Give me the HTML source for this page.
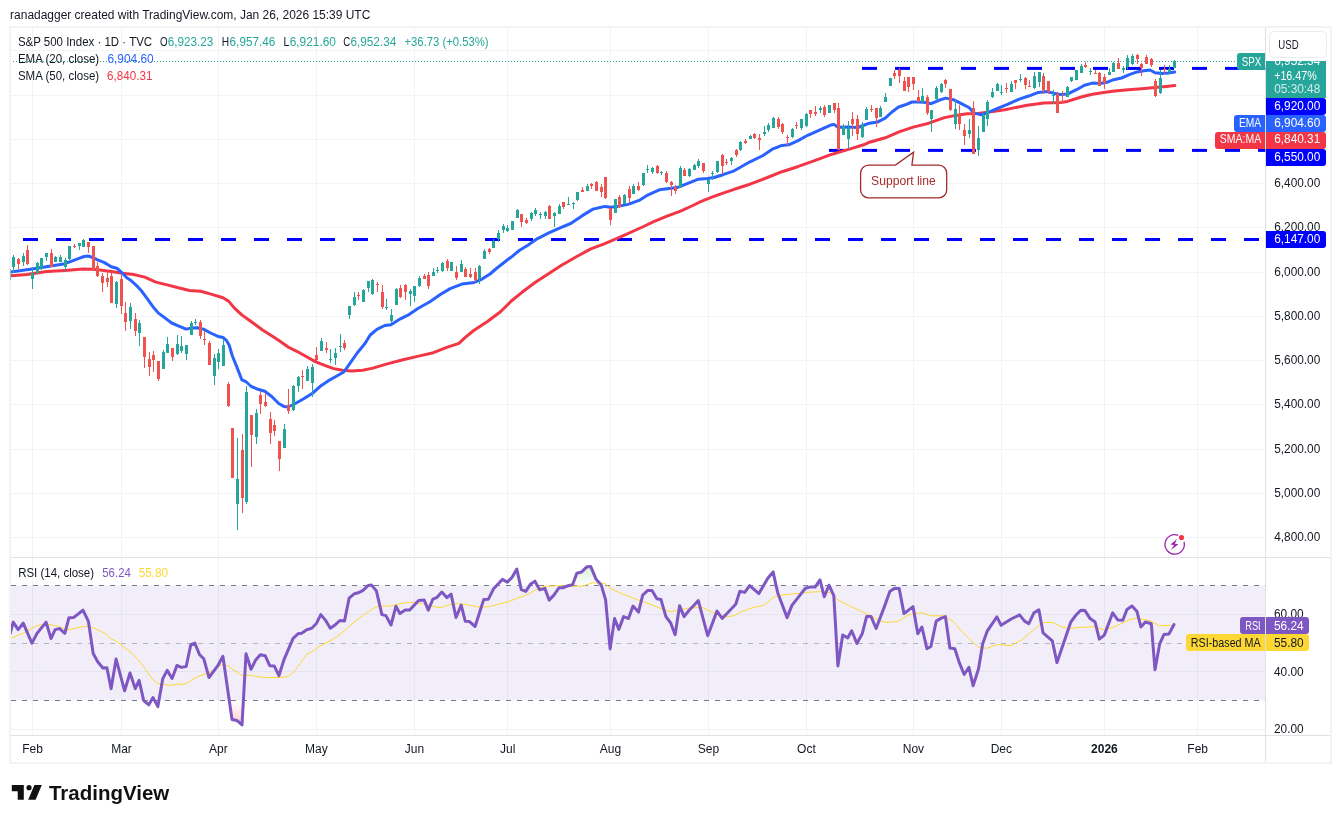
<!DOCTYPE html>
<html><head><meta charset="utf-8"><title>S&amp;P 500 Index chart</title>
<style>html,body{margin:0;padding:0;background:#fff}svg{display:block}</style></head>
<body>
<svg width="1341" height="823" viewBox="0 0 1341 823" font-family='"Liberation Sans", sans-serif' font-size="12" fill="#131722">
<rect width="1341" height="823" fill="#fff"/>
<defs>
<clipPath id="cm"><rect x="11" y="28" width="1254.5" height="529"/></clipPath>
<clipPath id="cr"><rect x="11" y="557" width="1254.5" height="178.5"/></clipPath>
<clipPath id="c70"><rect x="10" y="557" width="1255.5" height="28.399999999999977"/></clipPath>
<clipPath id="c30"><rect x="10" y="700.3" width="1255.5" height="35.200000000000045"/></clipPath>
<linearGradient id="gg" gradientUnits="userSpaceOnUse" x1="0" y1="499.2" x2="0" y2="585.4"><stop offset="0" stop-color="#4caf50" stop-opacity="1"/><stop offset="1" stop-color="#4caf50" stop-opacity="0"/></linearGradient>
<linearGradient id="gr" gradientUnits="userSpaceOnUse" x1="0" y1="700.3" x2="0" y2="786.5"><stop offset="0" stop-color="#ff5252" stop-opacity="0"/><stop offset="1" stop-color="#ff5252" stop-opacity="1"/></linearGradient>
</defs>
<text x="10.1" y="18.6" textLength="360.2" lengthAdjust="spacingAndGlyphs">ranadagger created with TradingView.com, Jan 26, 2026 15:39 UTC</text>
<g stroke="#f2f3f5" stroke-width="1" shape-rendering="crispEdges">
<line x1="32.5" y1="27" x2="32.5" y2="735.5"/>
<line x1="121.5" y1="27" x2="121.5" y2="735.5"/>
<line x1="218.5" y1="27" x2="218.5" y2="735.5"/>
<line x1="316.5" y1="27" x2="316.5" y2="735.5"/>
<line x1="414.5" y1="27" x2="414.5" y2="735.5"/>
<line x1="507.5" y1="27" x2="507.5" y2="735.5"/>
<line x1="610.5" y1="27" x2="610.5" y2="735.5"/>
<line x1="708.5" y1="27" x2="708.5" y2="735.5"/>
<line x1="806.5" y1="27" x2="806.5" y2="735.5"/>
<line x1="913.5" y1="27" x2="913.5" y2="735.5"/>
<line x1="1001.5" y1="27" x2="1001.5" y2="735.5"/>
<line x1="1104.5" y1="27" x2="1104.5" y2="735.5"/>
<line x1="1197.5" y1="27" x2="1197.5" y2="735.5"/>
<line x1="10" y1="537.5" x2="1265.5" y2="537.5"/>
<line x1="10" y1="493.5" x2="1265.5" y2="493.5"/>
<line x1="10" y1="449.5" x2="1265.5" y2="449.5"/>
<line x1="10" y1="404.5" x2="1265.5" y2="404.5"/>
<line x1="10" y1="360.5" x2="1265.5" y2="360.5"/>
<line x1="10" y1="316.5" x2="1265.5" y2="316.5"/>
<line x1="10" y1="272.5" x2="1265.5" y2="272.5"/>
<line x1="10" y1="227.5" x2="1265.5" y2="227.5"/>
<line x1="10" y1="183.5" x2="1265.5" y2="183.5"/>
<line x1="10" y1="139.5" x2="1265.5" y2="139.5"/>
<line x1="10" y1="95.5" x2="1265.5" y2="95.5"/>
<line x1="10" y1="50.5" x2="1265.5" y2="50.5"/>
<line x1="10" y1="614.5" x2="1265.5" y2="614.5"/>
<line x1="10" y1="671.5" x2="1265.5" y2="671.5"/>
<line x1="10" y1="729.5" x2="1265.5" y2="729.5"/>
</g>
<rect x="11" y="585.4" width="1254.5" height="114.89999999999998" fill="#7e57c2" fill-opacity="0.1"/>
<rect x="10" y="27" width="1321" height="736" fill="none" stroke="#f3f3f4" stroke-width="2" shape-rendering="crispEdges"/>
<g stroke="#e0e3eb" stroke-width="1" fill="none" shape-rendering="crispEdges">
<line x1="11" y1="557.5" x2="1330" y2="557.5"/>
</g>
<line x1="11" y1="735.5" x2="1330" y2="735.5" stroke="#e1e1e4" stroke-width="1" shape-rendering="crispEdges"/>
<line x1="1265.5" y1="28" x2="1265.5" y2="762" stroke="#e1e1e4" stroke-width="1" shape-rendering="crispEdges"/>
<rect x="10" y="269" width="1" height="11" fill="#26a69a" fill-opacity="0.6"/>
<g clip-path="url(#cm)">
<line x1="10" y1="61.5" x2="1265.5" y2="61.5" stroke="#26a69a" stroke-width="1" stroke-dasharray="1 2" shape-rendering="crispEdges"/>
<rect x="-10" y="238.0" width="15" height="3" fill="#0000ff"/>
<rect x="23" y="238.0" width="15" height="3" fill="#0000ff"/>
<rect x="56" y="238.0" width="15" height="3" fill="#0000ff"/>
<rect x="89" y="238.0" width="15" height="3" fill="#0000ff"/>
<rect x="122" y="238.0" width="15" height="3" fill="#0000ff"/>
<rect x="155" y="238.0" width="15" height="3" fill="#0000ff"/>
<rect x="188" y="238.0" width="15" height="3" fill="#0000ff"/>
<rect x="221" y="238.0" width="15" height="3" fill="#0000ff"/>
<rect x="254" y="238.0" width="15" height="3" fill="#0000ff"/>
<rect x="287" y="238.0" width="15" height="3" fill="#0000ff"/>
<rect x="320" y="238.0" width="15" height="3" fill="#0000ff"/>
<rect x="353" y="238.0" width="15" height="3" fill="#0000ff"/>
<rect x="386" y="238.0" width="15" height="3" fill="#0000ff"/>
<rect x="419" y="238.0" width="15" height="3" fill="#0000ff"/>
<rect x="452" y="238.0" width="15" height="3" fill="#0000ff"/>
<rect x="485" y="238.0" width="15" height="3" fill="#0000ff"/>
<rect x="518" y="238.0" width="15" height="3" fill="#0000ff"/>
<rect x="551" y="238.0" width="15" height="3" fill="#0000ff"/>
<rect x="584" y="238.0" width="15" height="3" fill="#0000ff"/>
<rect x="617" y="238.0" width="15" height="3" fill="#0000ff"/>
<rect x="650" y="238.0" width="15" height="3" fill="#0000ff"/>
<rect x="683" y="238.0" width="15" height="3" fill="#0000ff"/>
<rect x="716" y="238.0" width="15" height="3" fill="#0000ff"/>
<rect x="749" y="238.0" width="15" height="3" fill="#0000ff"/>
<rect x="782" y="238.0" width="15" height="3" fill="#0000ff"/>
<rect x="815" y="238.0" width="15" height="3" fill="#0000ff"/>
<rect x="848" y="238.0" width="15" height="3" fill="#0000ff"/>
<rect x="881" y="238.0" width="15" height="3" fill="#0000ff"/>
<rect x="914" y="238.0" width="15" height="3" fill="#0000ff"/>
<rect x="947" y="238.0" width="15" height="3" fill="#0000ff"/>
<rect x="980" y="238.0" width="15" height="3" fill="#0000ff"/>
<rect x="1013" y="238.0" width="15" height="3" fill="#0000ff"/>
<rect x="1046" y="238.0" width="15" height="3" fill="#0000ff"/>
<rect x="1079" y="238.0" width="15" height="3" fill="#0000ff"/>
<rect x="1112" y="238.0" width="15" height="3" fill="#0000ff"/>
<rect x="1145" y="238.0" width="15" height="3" fill="#0000ff"/>
<rect x="1178" y="238.0" width="15" height="3" fill="#0000ff"/>
<rect x="1211" y="238.0" width="15" height="3" fill="#0000ff"/>
<rect x="1244" y="238.0" width="15" height="3" fill="#0000ff"/>
<rect x="829" y="148.9" width="15" height="3" fill="#0000ff"/>
<rect x="862" y="148.9" width="15" height="3" fill="#0000ff"/>
<rect x="895" y="148.9" width="15" height="3" fill="#0000ff"/>
<rect x="928" y="148.9" width="15" height="3" fill="#0000ff"/>
<rect x="961" y="148.9" width="15" height="3" fill="#0000ff"/>
<rect x="994" y="148.9" width="15" height="3" fill="#0000ff"/>
<rect x="1027" y="148.9" width="15" height="3" fill="#0000ff"/>
<rect x="1060" y="148.9" width="15" height="3" fill="#0000ff"/>
<rect x="1093" y="148.9" width="15" height="3" fill="#0000ff"/>
<rect x="1126" y="148.9" width="15" height="3" fill="#0000ff"/>
<rect x="1159" y="148.9" width="15" height="3" fill="#0000ff"/>
<rect x="1192" y="148.9" width="15" height="3" fill="#0000ff"/>
<rect x="1225" y="148.9" width="15" height="3" fill="#0000ff"/>
<rect x="1258" y="148.9" width="7.5" height="3" fill="#0000ff"/>
<rect x="862" y="66.9" width="15" height="3" fill="#0000ff"/>
<rect x="895" y="66.9" width="15" height="3" fill="#0000ff"/>
<rect x="928" y="66.9" width="15" height="3" fill="#0000ff"/>
<rect x="961" y="66.9" width="15" height="3" fill="#0000ff"/>
<rect x="994" y="66.9" width="15" height="3" fill="#0000ff"/>
<rect x="1027" y="66.9" width="15" height="3" fill="#0000ff"/>
<rect x="1060" y="66.9" width="15" height="3" fill="#0000ff"/>
<rect x="1093" y="66.9" width="15" height="3" fill="#0000ff"/>
<rect x="1126" y="66.9" width="15" height="3" fill="#0000ff"/>
<rect x="1159" y="66.9" width="15" height="3" fill="#0000ff"/>
<rect x="1192" y="66.9" width="15" height="3" fill="#0000ff"/>
<rect x="1225" y="66.9" width="15" height="3" fill="#0000ff"/>
<rect x="1258" y="66.9" width="7.5" height="3" fill="#0000ff"/>
<polyline points="10,275.7 27,274.5 45,271.8 51,271.3 65,270.4 83,269 93,269.2 100,270.1 111.2,271.5 122.4,273.2 133.6,274.5 144.7,277.1 155.9,282.1 167.1,284.9 178.3,287.7 189.5,290.5 200.7,291.3 211.9,294.4 223,297.8 228.6,301.1 234.2,307.9 242.1,315.1 250,320.7 262.5,330 274.8,337.8 280,341.2 287.8,346.8 296.8,351.3 305.7,356.3 315.8,361.9 324.7,365.3 333.7,368.6 342.6,370.3 351.6,371.1 362.8,370.3 372.8,368.1 386.3,364.1 403,359.7 418.5,356.1 433.4,352.7 446.8,347.3 458.9,343.3 465.6,337.2 473.7,330.5 487.1,321.8 500.5,311.7 511.3,301 522,292.3 535.4,282.2 548.9,273.5 562.3,264.8 567.3,262 576.3,256.7 590.8,248.9 604.2,243.8 620,237.1 642.5,227 653.7,221.7 667.1,216.1 680.5,211.1 692.8,205.5 700.7,201.6 711.9,197.1 723,193.2 734.2,189.3 750,184.2 768.6,177 782,171.7 797.6,166.7 813.3,161.1 830.1,154.9 846.9,149.9 863.6,144.8 869.5,142.2 885.2,137.8 899.7,131.6 913.2,127.1 928.8,123.2 944.5,117.6 955.7,115.4 966.9,113.7 978,113.5 989.2,112 1005,109.8 1010.3,108.6 1027.1,105.3 1043.9,103 1060.7,102.5 1067.4,101.4 1081.2,97 1092.4,94.3 1103.6,92.6 1114.7,90.9 1128.2,89.8 1141.6,88.7 1155,87.5 1166.2,86.4 1174.8,85.6" fill="none" stroke="#f23645" stroke-width="3" stroke-linejoin="round" stroke-linecap="round" />
<polyline points="10,272.2 32,269 51,265.9 65,263.7 79,258.3 84,256.5 88,256 93,257.5 97,259.6 104.5,262.6 111.2,266.7 116.8,268.2 122.4,273.2 126.8,277.7 130.2,279.9 135.8,284.9 140.8,290 147,298.4 152.6,306.2 158.2,312.9 164.9,317.9 171.6,323 178.3,325.8 186.1,329.1 191.7,328 197.3,327.8 203.5,329.1 209.6,332.5 217.4,336.2 223,337.5 226.4,340.3 229.2,345.3 232.3,355.7 236.8,366.9 241.8,379.8 245.7,381.5 251.3,386.5 258,389.3 264.8,391.3 272,396.7 278.7,403.5 284.3,406.6 287.6,407.1 291.2,405.5 294.4,404 303.3,399 312.2,393.5 321.4,385.4 328.1,380.9 335.9,376.5 343.8,372 349.4,364.1 357.2,353 365,343.5 370.2,335 376.9,329.4 384.7,325.5 390.9,324.7 400.4,318.8 409.4,314.3 418.3,308.2 429.5,302 440.7,294.2 450.2,288.6 461.9,284.1 474.2,282.4 482.1,279.1 490,274 497,268 504.7,262 512.5,256.1 519.2,250.5 528.2,244.9 537.1,238.8 548.3,233.2 559.5,228.2 570.7,223.5 581.9,215.9 593,209.1 600,207.5 605,206.4 610.6,207.3 616.8,206.6 628,204.4 639.1,200.4 648.1,194.8 659.3,189.8 669.4,188.5 677.2,187.6 687.2,183.7 698.4,179.2 707.4,178.4 714.1,177.5 723,174.7 734.2,170.8 742.1,166.3 750,161.8 763,155.5 773,148.8 782,145.4 788.7,144.8 797.6,140.9 807.7,135.3 818.9,130.3 830.1,125.3 834,124.4 837.9,127.3 846.9,126.9 858,127.5 861.7,126 869.5,123.2 877.4,122.1 885.2,118.2 891.9,112 898.6,107 905.3,104.8 912,102 918.8,102 926.6,102.5 931.1,103.7 938.9,100.3 945.6,98.1 953.4,99.7 962.4,104.2 968.9,107.5 974.5,113.1 981.3,114.8 988,112.5 996.9,108.6 1008.1,104.2 1019.3,99.1 1029.4,95.8 1038.3,92.4 1047.2,91.6 1055.1,93.5 1060.7,94.6 1067.4,94.1 1076.5,89.7 1084.5,85.2 1092.4,83.1 1100.2,83.4 1106.9,82.3 1113.6,79.7 1121.5,78 1129.3,74.7 1137.1,71.9 1143.8,70.8 1150,70 1155,72.7 1161.7,73.6 1168.4,73 1174.8,71.9" fill="none" stroke="#2962ff" stroke-width="3" stroke-linejoin="round" stroke-linecap="round" />
<g fill="#26a69a"><rect x="13" y="255" width="1" height="18"/><rect x="12" y="257" width="3" height="10"/></g>
<g fill="#ef5350"><rect x="18" y="258" width="1" height="11"/><rect x="17" y="259" width="3" height="5"/></g>
<g fill="#26a69a"><rect x="23" y="253" width="1" height="13"/><rect x="22" y="256" width="3" height="6"/></g>
<g fill="#ef5350"><rect x="27" y="245" width="1" height="20"/><rect x="26" y="250" width="3" height="14"/></g>
<g fill="#26a69a"><rect x="32" y="267" width="1" height="22"/><rect x="31" y="273" width="3" height="6"/></g>
<g fill="#26a69a"><rect x="37" y="262" width="1" height="12"/><rect x="36" y="263" width="3" height="10"/></g>
<g fill="#26a69a"><rect x="41" y="258" width="1" height="12"/><rect x="40" y="258" width="3" height="10"/></g>
<g fill="#26a69a"><rect x="46" y="253" width="1" height="8"/><rect x="45" y="253" width="3" height="4"/></g>
<g fill="#ef5350"><rect x="51" y="249" width="1" height="18"/><rect x="50" y="253" width="3" height="14"/></g>
<g fill="#26a69a"><rect x="55" y="256" width="1" height="6"/><rect x="54" y="257" width="3" height="5"/></g>
<g fill="#26a69a"><rect x="60" y="255" width="1" height="7"/><rect x="59" y="257" width="3" height="5"/></g>
<g fill="#26a69a"><rect x="65" y="258" width="1" height="13"/><rect x="64" y="260" width="3" height="7"/></g>
<g fill="#26a69a"><rect x="69" y="246" width="1" height="14"/><rect x="68" y="246" width="3" height="13"/></g>
<g fill="#ef5350"><rect x="74" y="244" width="1" height="4"/><rect x="73" y="246" width="3" height="1"/></g>
<g fill="#26a69a"><rect x="79" y="243" width="1" height="7"/><rect x="78" y="243" width="3" height="3"/></g>
<g fill="#26a69a"><rect x="83" y="239" width="1" height="8"/><rect x="82" y="240" width="3" height="7"/></g>
<g fill="#ef5350"><rect x="88" y="242" width="1" height="11"/><rect x="87" y="242" width="3" height="5"/></g>
<g fill="#ef5350"><rect x="93" y="246" width="1" height="24"/><rect x="92" y="246" width="3" height="24"/></g>
<g fill="#ef5350"><rect x="97" y="262" width="1" height="15"/><rect x="96" y="266" width="3" height="10"/></g>
<g fill="#ef5350"><rect x="102" y="273" width="1" height="19"/><rect x="101" y="276" width="3" height="7"/></g>
<g fill="#ef5350"><rect x="107" y="271" width="1" height="16"/><rect x="106" y="278" width="3" height="4"/></g>
<g fill="#ef5350"><rect x="111" y="273" width="1" height="30"/><rect x="110" y="276" width="3" height="27"/></g>
<g fill="#26a69a"><rect x="116" y="281" width="1" height="27"/><rect x="115" y="282" width="3" height="22"/></g>
<g fill="#ef5350"><rect x="121" y="275" width="1" height="39"/><rect x="120" y="279" width="3" height="27"/></g>
<g fill="#ef5350"><rect x="125" y="302" width="1" height="29"/><rect x="124" y="313" width="3" height="9"/></g>
<g fill="#26a69a"><rect x="130" y="303" width="1" height="26"/><rect x="129" y="307" width="3" height="14"/></g>
<g fill="#ef5350"><rect x="135" y="313" width="1" height="23"/><rect x="134" y="319" width="3" height="12"/></g>
<g fill="#26a69a"><rect x="139" y="320" width="1" height="26"/><rect x="138" y="323" width="3" height="10"/></g>
<g fill="#ef5350"><rect x="144" y="337" width="1" height="31"/><rect x="143" y="337" width="3" height="20"/></g>
<g fill="#ef5350"><rect x="149" y="352" width="1" height="24"/><rect x="148" y="359" width="3" height="8"/></g>
<g fill="#ef5350"><rect x="153" y="351" width="1" height="21"/><rect x="152" y="355" width="3" height="5"/></g>
<g fill="#ef5350"><rect x="158" y="361" width="1" height="20"/><rect x="157" y="361" width="3" height="18"/></g>
<g fill="#26a69a"><rect x="163" y="350" width="1" height="19"/><rect x="162" y="352" width="3" height="17"/></g>
<g fill="#26a69a"><rect x="167" y="337" width="1" height="16"/><rect x="166" y="344" width="3" height="9"/></g>
<g fill="#ef5350"><rect x="172" y="348" width="1" height="13"/><rect x="171" y="348" width="3" height="9"/></g>
<g fill="#26a69a"><rect x="177" y="335" width="1" height="20"/><rect x="176" y="344" width="3" height="10"/></g>
<g fill="#26a69a"><rect x="181" y="336" width="1" height="17"/><rect x="180" y="346" width="3" height="5"/></g>
<g fill="#26a69a"><rect x="186" y="345" width="1" height="15"/><rect x="185" y="345" width="3" height="9"/></g>
<g fill="#26a69a"><rect x="191" y="321" width="1" height="14"/><rect x="190" y="323" width="3" height="12"/></g>
<g fill="#26a69a"><rect x="195" y="319" width="1" height="6"/><rect x="194" y="322" width="3" height="1"/></g>
<g fill="#ef5350"><rect x="200" y="320" width="1" height="19"/><rect x="199" y="322" width="3" height="14"/></g>
<g fill="#ef5350"><rect x="204" y="331" width="1" height="14"/><rect x="203" y="339" width="3" height="1"/></g>
<g fill="#ef5350"><rect x="209" y="341" width="1" height="24"/><rect x="208" y="343" width="3" height="22"/></g>
<g fill="#26a69a"><rect x="214" y="354" width="1" height="31"/><rect x="213" y="358" width="3" height="18"/></g>
<g fill="#26a69a"><rect x="218" y="349" width="1" height="20"/><rect x="217" y="353" width="3" height="9"/></g>
<g fill="#26a69a"><rect x="223" y="339" width="1" height="27"/><rect x="222" y="345" width="3" height="21"/></g>
<g fill="#ef5350"><rect x="228" y="382" width="1" height="25"/><rect x="227" y="384" width="3" height="22"/></g>
<g fill="#ef5350"><rect x="232" y="428" width="1" height="50"/><rect x="231" y="428" width="3" height="50"/></g>
<g fill="#26a69a"><rect x="237" y="438" width="1" height="92"/><rect x="236" y="479" width="3" height="25"/></g>
<g fill="#ef5350"><rect x="242" y="434" width="1" height="79"/><rect x="241" y="450" width="3" height="48"/></g>
<g fill="#26a69a"><rect x="246" y="386" width="1" height="118"/><rect x="245" y="392" width="3" height="110"/></g>
<g fill="#ef5350"><rect x="251" y="415" width="1" height="52"/><rect x="250" y="415" width="3" height="20"/></g>
<g fill="#26a69a"><rect x="256" y="409" width="1" height="35"/><rect x="255" y="413" width="3" height="24"/></g>
<g fill="#ef5350"><rect x="260" y="391" width="1" height="23"/><rect x="259" y="395" width="3" height="9"/></g>
<g fill="#ef5350"><rect x="265" y="393" width="1" height="14"/><rect x="264" y="402" width="3" height="4"/></g>
<g fill="#ef5350"><rect x="270" y="412" width="1" height="32"/><rect x="269" y="419" width="3" height="14"/></g>
<g fill="#ef5350"><rect x="274" y="420" width="1" height="16"/><rect x="273" y="425" width="3" height="6"/></g>
<g fill="#ef5350"><rect x="279" y="441" width="1" height="30"/><rect x="278" y="441" width="3" height="18"/></g>
<g fill="#26a69a"><rect x="284" y="424" width="1" height="24"/><rect x="283" y="429" width="3" height="19"/></g>
<g fill="#ef5350"><rect x="288" y="389" width="1" height="25"/><rect x="287" y="405" width="3" height="6"/></g>
<g fill="#26a69a"><rect x="293" y="385" width="1" height="26"/><rect x="292" y="386" width="3" height="24"/></g>
<g fill="#26a69a"><rect x="298" y="376" width="1" height="16"/><rect x="297" y="377" width="3" height="9"/></g>
<g fill="#ef5350"><rect x="302" y="370" width="1" height="19"/><rect x="301" y="376" width="3" height="1"/></g>
<g fill="#26a69a"><rect x="307" y="366" width="1" height="15"/><rect x="306" y="369" width="3" height="12"/></g>
<g fill="#26a69a"><rect x="312" y="364" width="1" height="33"/><rect x="311" y="367" width="3" height="16"/></g>
<g fill="#ef5350"><rect x="316" y="347" width="1" height="14"/><rect x="315" y="355" width="3" height="5"/></g>
<g fill="#26a69a"><rect x="321" y="338" width="1" height="13"/><rect x="320" y="341" width="3" height="10"/></g>
<g fill="#ef5350"><rect x="326" y="342" width="1" height="11"/><rect x="325" y="348" width="3" height="2"/></g>
<g fill="#26a69a"><rect x="330" y="349" width="1" height="14"/><rect x="329" y="359" width="3" height="1"/></g>
<g fill="#26a69a"><rect x="335" y="348" width="1" height="17"/><rect x="334" y="353" width="3" height="5"/></g>
<g fill="#26a69a"><rect x="340" y="334" width="1" height="18"/><rect x="339" y="346" width="3" height="1"/></g>
<g fill="#ef5350"><rect x="344" y="340" width="1" height="10"/><rect x="343" y="343" width="3" height="5"/></g>
<g fill="#26a69a"><rect x="349" y="306" width="1" height="13"/><rect x="348" y="306" width="3" height="9"/></g>
<g fill="#26a69a"><rect x="354" y="292" width="1" height="14"/><rect x="353" y="297" width="3" height="8"/></g>
<g fill="#ef5350"><rect x="358" y="292" width="1" height="8"/><rect x="357" y="295" width="3" height="1"/></g>
<g fill="#26a69a"><rect x="363" y="289" width="1" height="13"/><rect x="362" y="290" width="3" height="12"/></g>
<g fill="#26a69a"><rect x="368" y="281" width="1" height="11"/><rect x="367" y="281" width="3" height="7"/></g>
<g fill="#26a69a"><rect x="372" y="279" width="1" height="16"/><rect x="371" y="280" width="3" height="14"/></g>
<g fill="#ef5350"><rect x="377" y="282" width="1" height="10"/><rect x="376" y="284" width="3" height="1"/></g>
<g fill="#ef5350"><rect x="382" y="285" width="1" height="24"/><rect x="381" y="292" width="3" height="15"/></g>
<g fill="#26a69a"><rect x="386" y="299" width="1" height="11"/><rect x="385" y="307" width="3" height="1"/></g>
<g fill="#26a69a"><rect x="391" y="309" width="1" height="14"/><rect x="390" y="315" width="3" height="6"/></g>
<g fill="#26a69a"><rect x="396" y="288" width="1" height="17"/><rect x="395" y="289" width="3" height="16"/></g>
<g fill="#ef5350"><rect x="400" y="285" width="1" height="13"/><rect x="399" y="288" width="3" height="9"/></g>
<g fill="#ef5350"><rect x="405" y="284" width="1" height="16"/><rect x="404" y="285" width="3" height="7"/></g>
<g fill="#26a69a"><rect x="410" y="289" width="1" height="17"/><rect x="409" y="291" width="3" height="3"/></g>
<g fill="#26a69a"><rect x="414" y="286" width="1" height="16"/><rect x="413" y="286" width="3" height="10"/></g>
<g fill="#26a69a"><rect x="419" y="276" width="1" height="11"/><rect x="418" y="278" width="3" height="8"/></g>
<g fill="#ef5350"><rect x="424" y="274" width="1" height="5"/><rect x="423" y="276" width="3" height="3"/></g>
<g fill="#ef5350"><rect x="428" y="272" width="1" height="17"/><rect x="427" y="275" width="3" height="11"/></g>
<g fill="#26a69a"><rect x="433" y="268" width="1" height="8"/><rect x="432" y="272" width="3" height="4"/></g>
<g fill="#26a69a"><rect x="437" y="267" width="1" height="6"/><rect x="436" y="270" width="3" height="1"/></g>
<g fill="#26a69a"><rect x="442" y="262" width="1" height="10"/><rect x="441" y="263" width="3" height="8"/></g>
<g fill="#ef5350"><rect x="447" y="259" width="1" height="12"/><rect x="446" y="261" width="3" height="7"/></g>
<g fill="#26a69a"><rect x="451" y="262" width="1" height="9"/><rect x="450" y="262" width="3" height="9"/></g>
<g fill="#ef5350"><rect x="456" y="266" width="1" height="14"/><rect x="455" y="272" width="3" height="6"/></g>
<g fill="#26a69a"><rect x="461" y="260" width="1" height="12"/><rect x="460" y="264" width="3" height="8"/></g>
<g fill="#ef5350"><rect x="465" y="267" width="1" height="10"/><rect x="464" y="269" width="3" height="8"/></g>
<g fill="#ef5350"><rect x="470" y="268" width="1" height="10"/><rect x="469" y="274" width="3" height="3"/></g>
<g fill="#ef5350"><rect x="475" y="268" width="1" height="14"/><rect x="474" y="272" width="3" height="8"/></g>
<g fill="#26a69a"><rect x="479" y="265" width="1" height="19"/><rect x="478" y="266" width="3" height="13"/></g>
<g fill="#26a69a"><rect x="484" y="249" width="1" height="10"/><rect x="483" y="251" width="3" height="8"/></g>
<g fill="#ef5350"><rect x="489" y="248" width="1" height="6"/><rect x="488" y="249" width="3" height="3"/></g>
<g fill="#26a69a"><rect x="493" y="239" width="1" height="9"/><rect x="492" y="241" width="3" height="7"/></g>
<g fill="#26a69a"><rect x="498" y="230" width="1" height="12"/><rect x="497" y="233" width="3" height="6"/></g>
<g fill="#26a69a"><rect x="503" y="224" width="1" height="9"/><rect x="502" y="226" width="3" height="4"/></g>
<g fill="#26a69a"><rect x="507" y="225" width="1" height="7"/><rect x="506" y="228" width="3" height="3"/></g>
<g fill="#26a69a"><rect x="512" y="221" width="1" height="9"/><rect x="511" y="221" width="3" height="9"/></g>
<g fill="#26a69a"><rect x="517" y="209" width="1" height="9"/><rect x="516" y="210" width="3" height="8"/></g>
<g fill="#ef5350"><rect x="521" y="214" width="1" height="13"/><rect x="520" y="214" width="3" height="8"/></g>
<g fill="#ef5350"><rect x="526" y="218" width="1" height="6"/><rect x="525" y="220" width="3" height="3"/></g>
<g fill="#26a69a"><rect x="531" y="212" width="1" height="9"/><rect x="530" y="213" width="3" height="6"/></g>
<g fill="#26a69a"><rect x="535" y="208" width="1" height="8"/><rect x="534" y="210" width="3" height="4"/></g>
<g fill="#26a69a"><rect x="540" y="212" width="1" height="7"/><rect x="539" y="214" width="3" height="1"/></g>
<g fill="#26a69a"><rect x="545" y="211" width="1" height="8"/><rect x="544" y="212" width="3" height="4"/></g>
<g fill="#ef5350"><rect x="549" y="205" width="1" height="14"/><rect x="548" y="206" width="3" height="13"/></g>
<g fill="#26a69a"><rect x="554" y="212" width="1" height="15"/><rect x="553" y="213" width="3" height="3"/></g>
<g fill="#26a69a"><rect x="559" y="204" width="1" height="10"/><rect x="558" y="206" width="3" height="8"/></g>
<g fill="#ef5350"><rect x="563" y="202" width="1" height="7"/><rect x="562" y="202" width="3" height="5"/></g>
<g fill="#26a69a"><rect x="568" y="197" width="1" height="8"/><rect x="567" y="204" width="3" height="1"/></g>
<g fill="#26a69a"><rect x="573" y="202" width="1" height="7"/><rect x="572" y="203" width="3" height="1"/></g>
<g fill="#26a69a"><rect x="577" y="192" width="1" height="9"/><rect x="576" y="192" width="3" height="8"/></g>
<g fill="#ef5350"><rect x="582" y="187" width="1" height="5"/><rect x="581" y="190" width="3" height="2"/></g>
<g fill="#26a69a"><rect x="587" y="184" width="1" height="7"/><rect x="586" y="186" width="3" height="5"/></g>
<g fill="#ef5350"><rect x="591" y="183" width="1" height="6"/><rect x="590" y="184" width="3" height="2"/></g>
<g fill="#ef5350"><rect x="596" y="181" width="1" height="10"/><rect x="595" y="182" width="3" height="9"/></g>
<g fill="#ef5350"><rect x="601" y="184" width="1" height="13"/><rect x="600" y="187" width="3" height="5"/></g>
<g fill="#ef5350"><rect x="605" y="177" width="1" height="22"/><rect x="604" y="177" width="3" height="21"/></g>
<g fill="#ef5350"><rect x="610" y="208" width="1" height="17"/><rect x="609" y="208" width="3" height="12"/></g>
<g fill="#26a69a"><rect x="615" y="199" width="1" height="14"/><rect x="614" y="199" width="3" height="14"/></g>
<g fill="#ef5350"><rect x="619" y="195" width="1" height="13"/><rect x="618" y="197" width="3" height="10"/></g>
<g fill="#26a69a"><rect x="624" y="194" width="1" height="10"/><rect x="623" y="195" width="3" height="9"/></g>
<g fill="#ef5350"><rect x="629" y="186" width="1" height="17"/><rect x="628" y="189" width="3" height="9"/></g>
<g fill="#26a69a"><rect x="633" y="184" width="1" height="10"/><rect x="632" y="186" width="3" height="8"/></g>
<g fill="#ef5350"><rect x="638" y="182" width="1" height="9"/><rect x="637" y="186" width="3" height="4"/></g>
<g fill="#26a69a"><rect x="643" y="173" width="1" height="13"/><rect x="642" y="173" width="3" height="12"/></g>
<g fill="#26a69a"><rect x="647" y="165" width="1" height="8"/><rect x="646" y="169" width="3" height="1"/></g>
<g fill="#26a69a"><rect x="652" y="167" width="1" height="7"/><rect x="651" y="168" width="3" height="4"/></g>
<g fill="#ef5350"><rect x="657" y="165" width="1" height="9"/><rect x="656" y="166" width="3" height="7"/></g>
<g fill="#26a69a"><rect x="661" y="171" width="1" height="4"/><rect x="660" y="172" width="3" height="1"/></g>
<g fill="#ef5350"><rect x="666" y="171" width="1" height="12"/><rect x="665" y="173" width="3" height="9"/></g>
<g fill="#ef5350"><rect x="671" y="181" width="1" height="15"/><rect x="670" y="182" width="3" height="3"/></g>
<g fill="#ef5350"><rect x="675" y="185" width="1" height="9"/><rect x="674" y="187" width="3" height="4"/></g>
<g fill="#26a69a"><rect x="680" y="166" width="1" height="22"/><rect x="679" y="168" width="3" height="20"/></g>
<g fill="#ef5350"><rect x="684" y="168" width="1" height="8"/><rect x="683" y="170" width="3" height="6"/></g>
<g fill="#26a69a"><rect x="689" y="168" width="1" height="9"/><rect x="688" y="169" width="3" height="7"/></g>
<g fill="#26a69a"><rect x="694" y="164" width="1" height="6"/><rect x="693" y="165" width="3" height="5"/></g>
<g fill="#26a69a"><rect x="698" y="159" width="1" height="9"/><rect x="697" y="161" width="3" height="5"/></g>
<g fill="#ef5350"><rect x="703" y="163" width="1" height="10"/><rect x="702" y="163" width="3" height="8"/></g>
<g fill="#26a69a"><rect x="708" y="180" width="1" height="12"/><rect x="707" y="180" width="3" height="4"/></g>
<g fill="#26a69a"><rect x="712" y="171" width="1" height="9"/><rect x="711" y="173" width="3" height="1"/></g>
<g fill="#26a69a"><rect x="717" y="161" width="1" height="12"/><rect x="716" y="161" width="3" height="11"/></g>
<g fill="#ef5350"><rect x="722" y="154" width="1" height="20"/><rect x="721" y="155" width="3" height="11"/></g>
<g fill="#ef5350"><rect x="726" y="159" width="1" height="6"/><rect x="725" y="162" width="3" height="1"/></g>
<g fill="#26a69a"><rect x="731" y="157" width="1" height="8"/><rect x="730" y="158" width="3" height="3"/></g>
<g fill="#ef5350"><rect x="736" y="149" width="1" height="8"/><rect x="735" y="150" width="3" height="5"/></g>
<g fill="#26a69a"><rect x="740" y="141" width="1" height="10"/><rect x="739" y="142" width="3" height="8"/></g>
<g fill="#ef5350"><rect x="745" y="139" width="1" height="5"/><rect x="744" y="141" width="3" height="2"/></g>
<g fill="#26a69a"><rect x="750" y="135" width="1" height="4"/><rect x="749" y="136" width="3" height="3"/></g>
<g fill="#ef5350"><rect x="754" y="133" width="1" height="6"/><rect x="753" y="134" width="3" height="4"/></g>
<g fill="#ef5350"><rect x="759" y="134" width="1" height="16"/><rect x="758" y="138" width="3" height="2"/></g>
<g fill="#26a69a"><rect x="764" y="126" width="1" height="10"/><rect x="763" y="132" width="3" height="2"/></g>
<g fill="#26a69a"><rect x="768" y="123" width="1" height="9"/><rect x="767" y="125" width="3" height="5"/></g>
<g fill="#26a69a"><rect x="773" y="117" width="1" height="11"/><rect x="772" y="118" width="3" height="10"/></g>
<g fill="#ef5350"><rect x="778" y="117" width="1" height="12"/><rect x="777" y="119" width="3" height="8"/></g>
<g fill="#ef5350"><rect x="782" y="123" width="1" height="11"/><rect x="781" y="124" width="3" height="8"/></g>
<g fill="#ef5350"><rect x="787" y="135" width="1" height="11"/><rect x="786" y="137" width="3" height="1"/></g>
<g fill="#26a69a"><rect x="792" y="128" width="1" height="10"/><rect x="791" y="129" width="3" height="8"/></g>
<g fill="#ef5350"><rect x="796" y="122" width="1" height="7"/><rect x="795" y="125" width="3" height="1"/></g>
<g fill="#26a69a"><rect x="801" y="119" width="1" height="11"/><rect x="800" y="119" width="3" height="9"/></g>
<g fill="#26a69a"><rect x="806" y="113" width="1" height="14"/><rect x="805" y="114" width="3" height="12"/></g>
<g fill="#ef5350"><rect x="810" y="110" width="1" height="8"/><rect x="809" y="110" width="3" height="4"/></g>
<g fill="#ef5350"><rect x="815" y="106" width="1" height="10"/><rect x="814" y="112" width="3" height="2"/></g>
<g fill="#26a69a"><rect x="820" y="106" width="1" height="7"/><rect x="819" y="108" width="3" height="2"/></g>
<g fill="#ef5350"><rect x="824" y="105" width="1" height="12"/><rect x="823" y="107" width="3" height="8"/></g>
<g fill="#26a69a"><rect x="829" y="105" width="1" height="8"/><rect x="828" y="105" width="3" height="8"/></g>
<g fill="#ef5350"><rect x="834" y="103" width="1" height="10"/><rect x="833" y="103" width="3" height="7"/></g>
<g fill="#ef5350"><rect x="838" y="103" width="1" height="47"/><rect x="837" y="108" width="3" height="42"/></g>
<g fill="#26a69a"><rect x="843" y="124" width="1" height="11"/><rect x="842" y="126" width="3" height="9"/></g>
<g fill="#26a69a"><rect x="848" y="121" width="1" height="28"/><rect x="847" y="128" width="3" height="11"/></g>
<g fill="#ef5350"><rect x="852" y="112" width="1" height="24"/><rect x="851" y="119" width="3" height="5"/></g>
<g fill="#ef5350"><rect x="857" y="115" width="1" height="25"/><rect x="856" y="119" width="3" height="15"/></g>
<g fill="#26a69a"><rect x="862" y="122" width="1" height="16"/><rect x="861" y="125" width="3" height="12"/></g>
<g fill="#26a69a"><rect x="866" y="107" width="1" height="13"/><rect x="865" y="109" width="3" height="11"/></g>
<g fill="#ef5350"><rect x="871" y="105" width="1" height="7"/><rect x="870" y="109" width="3" height="1"/></g>
<g fill="#ef5350"><rect x="876" y="108" width="1" height="19"/><rect x="875" y="108" width="3" height="10"/></g>
<g fill="#26a69a"><rect x="880" y="106" width="1" height="11"/><rect x="879" y="108" width="3" height="9"/></g>
<g fill="#26a69a"><rect x="885" y="93" width="1" height="9"/><rect x="884" y="97" width="3" height="5"/></g>
<g fill="#26a69a"><rect x="890" y="78" width="1" height="8"/><rect x="889" y="78" width="3" height="8"/></g>
<g fill="#ef5350"><rect x="894" y="70" width="1" height="9"/><rect x="893" y="73" width="3" height="3"/></g>
<g fill="#ef5350"><rect x="899" y="68" width="1" height="15"/><rect x="898" y="70" width="3" height="6"/></g>
<g fill="#ef5350"><rect x="904" y="77" width="1" height="14"/><rect x="903" y="81" width="3" height="10"/></g>
<g fill="#ef5350"><rect x="908" y="77" width="1" height="15"/><rect x="907" y="77" width="3" height="10"/></g>
<g fill="#ef5350"><rect x="913" y="77" width="1" height="13"/><rect x="912" y="77" width="3" height="7"/></g>
<g fill="#ef5350"><rect x="918" y="90" width="1" height="12"/><rect x="917" y="97" width="3" height="5"/></g>
<g fill="#26a69a"><rect x="922" y="88" width="1" height="15"/><rect x="921" y="96" width="3" height="6"/></g>
<g fill="#ef5350"><rect x="927" y="95" width="1" height="20"/><rect x="926" y="97" width="3" height="16"/></g>
<g fill="#26a69a"><rect x="931" y="110" width="1" height="22"/><rect x="930" y="110" width="3" height="9"/></g>
<g fill="#26a69a"><rect x="936" y="86" width="1" height="15"/><rect x="935" y="88" width="3" height="11"/></g>
<g fill="#26a69a"><rect x="941" y="83" width="1" height="10"/><rect x="940" y="84" width="3" height="8"/></g>
<g fill="#ef5350"><rect x="945" y="79" width="1" height="9"/><rect x="944" y="80" width="3" height="4"/></g>
<g fill="#ef5350"><rect x="950" y="89" width="1" height="22"/><rect x="949" y="89" width="3" height="21"/></g>
<g fill="#26a69a"><rect x="955" y="100" width="1" height="29"/><rect x="954" y="109" width="3" height="15"/></g>
<g fill="#ef5350"><rect x="959" y="105" width="1" height="25"/><rect x="958" y="114" width="3" height="10"/></g>
<g fill="#ef5350"><rect x="964" y="124" width="1" height="21"/><rect x="963" y="130" width="3" height="6"/></g>
<g fill="#26a69a"><rect x="969" y="119" width="1" height="19"/><rect x="968" y="130" width="3" height="4"/></g>
<g fill="#ef5350"><rect x="973" y="101" width="1" height="53"/><rect x="972" y="108" width="3" height="46"/></g>
<g fill="#26a69a"><rect x="978" y="126" width="1" height="30"/><rect x="977" y="138" width="3" height="12"/></g>
<g fill="#26a69a"><rect x="983" y="113" width="1" height="19"/><rect x="982" y="115" width="3" height="17"/></g>
<g fill="#26a69a"><rect x="987" y="100" width="1" height="26"/><rect x="986" y="102" width="3" height="17"/></g>
<g fill="#26a69a"><rect x="992" y="88" width="1" height="10"/><rect x="991" y="92" width="3" height="5"/></g>
<g fill="#26a69a"><rect x="997" y="83" width="1" height="8"/><rect x="996" y="84" width="3" height="7"/></g>
<g fill="#26a69a"><rect x="1001" y="85" width="1" height="10"/><rect x="1000" y="92" width="3" height="1"/></g>
<g fill="#ef5350"><rect x="1006" y="83" width="1" height="10"/><rect x="1005" y="88" width="3" height="1"/></g>
<g fill="#26a69a"><rect x="1011" y="81" width="1" height="11"/><rect x="1010" y="84" width="3" height="8"/></g>
<g fill="#ef5350"><rect x="1015" y="80" width="1" height="9"/><rect x="1014" y="80" width="3" height="3"/></g>
<g fill="#26a69a"><rect x="1020" y="74" width="1" height="8"/><rect x="1019" y="79" width="3" height="1"/></g>
<g fill="#ef5350"><rect x="1025" y="77" width="1" height="12"/><rect x="1024" y="78" width="3" height="7"/></g>
<g fill="#ef5350"><rect x="1029" y="80" width="1" height="7"/><rect x="1028" y="86" width="3" height="1"/></g>
<g fill="#26a69a"><rect x="1034" y="72" width="1" height="17"/><rect x="1033" y="76" width="3" height="12"/></g>
<g fill="#26a69a"><rect x="1039" y="72" width="1" height="15"/><rect x="1038" y="72" width="3" height="10"/></g>
<g fill="#ef5350"><rect x="1043" y="73" width="1" height="21"/><rect x="1042" y="76" width="3" height="14"/></g>
<g fill="#ef5350"><rect x="1048" y="81" width="1" height="13"/><rect x="1047" y="81" width="3" height="11"/></g>
<g fill="#26a69a"><rect x="1053" y="90" width="1" height="14"/><rect x="1052" y="95" width="3" height="1"/></g>
<g fill="#ef5350"><rect x="1057" y="92" width="1" height="21"/><rect x="1056" y="94" width="3" height="19"/></g>
<g fill="#ef5350"><rect x="1062" y="91" width="1" height="12"/><rect x="1061" y="101" width="3" height="1"/></g>
<g fill="#26a69a"><rect x="1067" y="86" width="1" height="11"/><rect x="1066" y="87" width="3" height="10"/></g>
<g fill="#26a69a"><rect x="1071" y="77" width="1" height="5"/><rect x="1070" y="77" width="3" height="4"/></g>
<g fill="#26a69a"><rect x="1076" y="70" width="1" height="10"/><rect x="1075" y="70" width="3" height="10"/></g>
<g fill="#26a69a"><rect x="1081" y="64" width="1" height="9"/><rect x="1080" y="66" width="3" height="7"/></g>
<g fill="#ef5350"><rect x="1085" y="62" width="1" height="6"/><rect x="1084" y="65" width="3" height="2"/></g>
<g fill="#26a69a"><rect x="1090" y="68" width="1" height="7"/><rect x="1089" y="71" width="3" height="1"/></g>
<g fill="#ef5350"><rect x="1095" y="70" width="1" height="4"/><rect x="1094" y="73" width="3" height="1"/></g>
<g fill="#ef5350"><rect x="1099" y="72" width="1" height="14"/><rect x="1098" y="73" width="3" height="13"/></g>
<g fill="#ef5350"><rect x="1104" y="74" width="1" height="15"/><rect x="1103" y="77" width="3" height="6"/></g>
<g fill="#26a69a"><rect x="1109" y="68" width="1" height="7"/><rect x="1108" y="72" width="3" height="3"/></g>
<g fill="#26a69a"><rect x="1113" y="62" width="1" height="10"/><rect x="1112" y="63" width="3" height="9"/></g>
<g fill="#ef5350"><rect x="1118" y="58" width="1" height="11"/><rect x="1117" y="63" width="3" height="6"/></g>
<g fill="#26a69a"><rect x="1123" y="66" width="1" height="7"/><rect x="1122" y="68" width="3" height="2"/></g>
<g fill="#26a69a"><rect x="1127" y="55" width="1" height="14"/><rect x="1126" y="58" width="3" height="9"/></g>
<g fill="#26a69a"><rect x="1132" y="54" width="1" height="11"/><rect x="1131" y="56" width="3" height="8"/></g>
<g fill="#ef5350"><rect x="1137" y="54" width="1" height="10"/><rect x="1136" y="55" width="3" height="4"/></g>
<g fill="#ef5350"><rect x="1141" y="63" width="1" height="13"/><rect x="1140" y="64" width="3" height="4"/></g>
<g fill="#ef5350"><rect x="1146" y="55" width="1" height="9"/><rect x="1145" y="57" width="3" height="7"/></g>
<g fill="#ef5350"><rect x="1151" y="58" width="1" height="9"/><rect x="1150" y="59" width="3" height="6"/></g>
<g fill="#ef5350"><rect x="1155" y="79" width="1" height="18"/><rect x="1154" y="81" width="3" height="15"/></g>
<g fill="#26a69a"><rect x="1160" y="70" width="1" height="24"/><rect x="1159" y="78" width="3" height="15"/></g>
<g fill="#ef5350"><rect x="1164" y="65" width="1" height="9"/><rect x="1163" y="69" width="3" height="1"/></g>
<g fill="#26a69a"><rect x="1169" y="65" width="1" height="9"/><rect x="1168" y="69" width="3" height="3"/></g>
<g fill="#26a69a"><rect x="1174" y="60" width="1" height="8"/><rect x="1173" y="61" width="3" height="7"/></g>
</g>
<path d="M868.6 165.1 H895.4 L913.6 152.2 L911.9 165.1 H938.7 a8 8 0 0 1 8 8 V189.9 a8 8 0 0 1 -8 8 H868.6 a8 8 0 0 1 -8 -8 V173.1 a8 8 0 0 1 8 -8 Z" fill="#fff" fill-opacity="0.9" stroke="#a52a2a" stroke-width="1.3"/>
<text x="871.1" y="184.8" fill="#a52a2a" textLength="64.7" lengthAdjust="spacingAndGlyphs">Support line</text>
<rect x="1164" y="533.5" width="22" height="22" fill="#fff"/>
<g fill="none" stroke="#9c27b0" stroke-width="1.3"><path d="M1178.2 535.4 A9.7 9.7 0 1 0 1184.0 541.8"/></g>
<path d="M1177.0 539.1 L1170.4 544.6 L1174.0 544.9 L1171.0 549.9 L1178.4 544.3 L1174.9 543.8 Z" fill="#9c27b0"/>
<circle cx="1181.5" cy="537.5" r="2.6" fill="#f23645"/>
<text x="17.9" y="45.5" textLength="134.2" lengthAdjust="spacingAndGlyphs">S&amp;P 500 Index · 1D · TVC</text>
<text x="159.9" y="45.5" textLength="7.6" lengthAdjust="spacingAndGlyphs">O</text>
<text x="167.7" y="45.5" fill="#26a69a" textLength="45.7" lengthAdjust="spacingAndGlyphs">6,923.23</text>
<text x="221.8" y="45.5" textLength="7.4" lengthAdjust="spacingAndGlyphs">H</text>
<text x="229.6" y="45.5" fill="#26a69a" textLength="45.7" lengthAdjust="spacingAndGlyphs">6,957.46</text>
<text x="283.6" y="45.5" textLength="5.8" lengthAdjust="spacingAndGlyphs">L</text>
<text x="289.7" y="45.5" fill="#26a69a" textLength="46.2" lengthAdjust="spacingAndGlyphs">6,921.60</text>
<text x="343.2" y="45.5" textLength="7" lengthAdjust="spacingAndGlyphs">C</text>
<text x="350.5" y="45.5" fill="#26a69a" textLength="45.7" lengthAdjust="spacingAndGlyphs">6,952.34</text>
<text x="404.5" y="45.5" fill="#26a69a" textLength="84.1" lengthAdjust="spacingAndGlyphs">+36.73 (+0.53%)</text>
<text x="17.9" y="62.6" textLength="81.3" lengthAdjust="spacingAndGlyphs">EMA (20, close)</text>
<text x="107.4" y="62.6" fill="#2962ff" textLength="46.2" lengthAdjust="spacingAndGlyphs">6,904.60</text>
<text x="17.9" y="79.5" textLength="81.3" lengthAdjust="spacingAndGlyphs">SMA (50, close)</text>
<text x="107.1" y="79.5" fill="#f23645" textLength="45.3" lengthAdjust="spacingAndGlyphs">6,840.31</text>
<g clip-path="url(#cr)">
<polygon points="10.2,585.4 10.2,633.3 13.2,622.1 18.2,629.6 23.2,623.2 31.9,643.1 37.1,633.3 46.1,622.1 51,638.6 55.1,629.6 59.6,628.6 64.8,633.3 69,617.7 73.8,617.4 83,610.2 88.4,621.4 93.2,653.5 97.7,661.7 102.9,668 106.9,667.7 111.1,688.7 116.1,659.1 124.6,690.9 130,673 135.3,688.7 139.1,680.4 143.7,700.6 148.8,704.8 153,697.6 157.9,706.6 162.7,678.9 167.2,670.4 172.1,678.5 176.9,665.5 181.4,667.4 186.2,666.5 190.8,644.6 194.8,643.1 199.6,654.7 203.8,658.8 209,677.5 217.8,665.7 222.9,656.2 232,719.5 236.9,720.4 242,724.9 246,653.8 251,669.3 255.7,659.9 260.3,654.7 265.2,655.7 269.7,665.7 274.3,666.1 278.9,675.7 283.8,660.2 293.1,638.3 298,633.8 301.7,633.2 307.1,629.6 311.7,628.3 316.2,623.8 320.8,614.6 325.4,620.1 330.3,628.3 335.4,624.7 339.9,620.5 344.5,621 349.1,598.2 354.5,593.7 358.2,592.8 362.7,590.6 368.2,585.5 371.5,585.1 376.4,590.9 381.9,614.6 385.9,615.6 391,625 395.9,606.3 399.9,613.5 405.2,610.1 409.7,610.1 418.6,600.4 424.2,600.1 428.3,610.1 432.8,599.2 436.6,597.7 441.8,592.1 447,597.7 451.1,594.1 456,617.5 461.2,605.1 465.3,621.3 469.5,621.6 475.1,626.5 483.7,599.6 488.4,599.2 493.4,589.1 502.3,579.4 507.3,582.1 512.1,577.2 516.8,569 521.3,589.6 525.8,591.4 530.7,583.9 534.9,581.2 539.7,589.9 544.9,588.4 549.1,600.1 553.9,595.1 559.1,587.7 563.6,587.7 568.1,585.7 572.6,584.7 576.8,573.3 581.4,572.1 587,566.7 590.7,566.4 595.9,578.9 601.2,584.9 605.6,599.8 610.1,648.9 614.6,618.5 618.8,629.4 623.6,616.6 628.5,618.5 633,606.1 638.5,612.1 642.7,595.1 647.5,590.6 652,590.6 656.9,598.8 660.9,599.4 665.9,616.6 670.7,623 675.1,634.7 679.6,605.8 684.1,616.6 689.3,610 693.8,605.5 698.3,600.6 707.7,635.7 717,611.1 722.2,618.5 735.7,604.3 739.9,591.3 744.7,592.4 749.6,585.6 758.9,593.6 767.8,578.2 773.1,571.9 777.7,592.7 787.1,617.6 791.9,605.4 805.4,588.2 809.8,587.1 815.1,587.1 820,579.9 824.3,596.8 829,585.2 833.8,595.6 837.9,665.9 842.7,635 847.7,637.9 851.7,630.8 856.9,643.5 862.2,633.8 866.6,616.6 871.1,616.6 876.1,628.5 884.6,606.1 889.8,591.6 894.3,588.6 899.2,588.6 904,613.6 913,606.6 917.8,633.8 921.9,627 926.9,648.7 930.9,646.5 936.2,621.1 941.4,618.1 945.4,616.6 949.9,648 954.8,648.7 959.3,662.6 964.2,674.5 968.9,667.3 973.1,685.7 978.5,669 982.7,643.8 987.2,631.2 996.9,616.9 1001.1,625.3 1011.2,619 1019.6,614.9 1024.6,621.1 1028.8,623.7 1033.9,612.8 1038.9,609.9 1043.1,632.9 1052.3,640.8 1057,662.6 1070.8,622 1075.8,615.3 1080.8,610.2 1085,610.6 1090.1,618.6 1095.1,622 1099.3,639.1 1104.3,635.1 1112.7,612.8 1117.8,620 1122.8,620.3 1127,609.4 1132,606 1137,611.6 1140.9,627 1145.4,622 1151.3,623.7 1155,669.8 1159.7,643.8 1163.9,634.6 1168.9,634.1 1174,624.5 1174,585.4" fill="url(#gg)" clip-path="url(#c70)"/>
<polygon points="10.2,700.3 10.2,633.3 13.2,622.1 18.2,629.6 23.2,623.2 31.9,643.1 37.1,633.3 46.1,622.1 51,638.6 55.1,629.6 59.6,628.6 64.8,633.3 69,617.7 73.8,617.4 83,610.2 88.4,621.4 93.2,653.5 97.7,661.7 102.9,668 106.9,667.7 111.1,688.7 116.1,659.1 124.6,690.9 130,673 135.3,688.7 139.1,680.4 143.7,700.6 148.8,704.8 153,697.6 157.9,706.6 162.7,678.9 167.2,670.4 172.1,678.5 176.9,665.5 181.4,667.4 186.2,666.5 190.8,644.6 194.8,643.1 199.6,654.7 203.8,658.8 209,677.5 217.8,665.7 222.9,656.2 232,719.5 236.9,720.4 242,724.9 246,653.8 251,669.3 255.7,659.9 260.3,654.7 265.2,655.7 269.7,665.7 274.3,666.1 278.9,675.7 283.8,660.2 293.1,638.3 298,633.8 301.7,633.2 307.1,629.6 311.7,628.3 316.2,623.8 320.8,614.6 325.4,620.1 330.3,628.3 335.4,624.7 339.9,620.5 344.5,621 349.1,598.2 354.5,593.7 358.2,592.8 362.7,590.6 368.2,585.5 371.5,585.1 376.4,590.9 381.9,614.6 385.9,615.6 391,625 395.9,606.3 399.9,613.5 405.2,610.1 409.7,610.1 418.6,600.4 424.2,600.1 428.3,610.1 432.8,599.2 436.6,597.7 441.8,592.1 447,597.7 451.1,594.1 456,617.5 461.2,605.1 465.3,621.3 469.5,621.6 475.1,626.5 483.7,599.6 488.4,599.2 493.4,589.1 502.3,579.4 507.3,582.1 512.1,577.2 516.8,569 521.3,589.6 525.8,591.4 530.7,583.9 534.9,581.2 539.7,589.9 544.9,588.4 549.1,600.1 553.9,595.1 559.1,587.7 563.6,587.7 568.1,585.7 572.6,584.7 576.8,573.3 581.4,572.1 587,566.7 590.7,566.4 595.9,578.9 601.2,584.9 605.6,599.8 610.1,648.9 614.6,618.5 618.8,629.4 623.6,616.6 628.5,618.5 633,606.1 638.5,612.1 642.7,595.1 647.5,590.6 652,590.6 656.9,598.8 660.9,599.4 665.9,616.6 670.7,623 675.1,634.7 679.6,605.8 684.1,616.6 689.3,610 693.8,605.5 698.3,600.6 707.7,635.7 717,611.1 722.2,618.5 735.7,604.3 739.9,591.3 744.7,592.4 749.6,585.6 758.9,593.6 767.8,578.2 773.1,571.9 777.7,592.7 787.1,617.6 791.9,605.4 805.4,588.2 809.8,587.1 815.1,587.1 820,579.9 824.3,596.8 829,585.2 833.8,595.6 837.9,665.9 842.7,635 847.7,637.9 851.7,630.8 856.9,643.5 862.2,633.8 866.6,616.6 871.1,616.6 876.1,628.5 884.6,606.1 889.8,591.6 894.3,588.6 899.2,588.6 904,613.6 913,606.6 917.8,633.8 921.9,627 926.9,648.7 930.9,646.5 936.2,621.1 941.4,618.1 945.4,616.6 949.9,648 954.8,648.7 959.3,662.6 964.2,674.5 968.9,667.3 973.1,685.7 978.5,669 982.7,643.8 987.2,631.2 996.9,616.9 1001.1,625.3 1011.2,619 1019.6,614.9 1024.6,621.1 1028.8,623.7 1033.9,612.8 1038.9,609.9 1043.1,632.9 1052.3,640.8 1057,662.6 1070.8,622 1075.8,615.3 1080.8,610.2 1085,610.6 1090.1,618.6 1095.1,622 1099.3,639.1 1104.3,635.1 1112.7,612.8 1117.8,620 1122.8,620.3 1127,609.4 1132,606 1137,611.6 1140.9,627 1145.4,622 1151.3,623.7 1155,669.8 1159.7,643.8 1163.9,634.6 1168.9,634.1 1174,624.5 1174,700.3" fill="url(#gr)" clip-path="url(#c30)"/>
<line x1="10.5" y1="585.5" x2="1265.5" y2="585.5" stroke="#787b86" stroke-width="1" stroke-dasharray="5.5 5.5" shape-rendering="crispEdges"/>
<line x1="10.5" y1="643.5" x2="1265.5" y2="643.5" stroke="#b2b5be" stroke-width="1" stroke-dasharray="5.5 5.5" shape-rendering="crispEdges"/>
<line x1="10.5" y1="700.5" x2="1265.5" y2="700.5" stroke="#787b86" stroke-width="1" stroke-dasharray="5.5 5.5" shape-rendering="crispEdges"/>
<polyline points="10.2,638.6 22.9,633.3 37.1,625.6 46.9,624.1 57.3,626.2 67.8,629.6 76.7,628.1 84.2,626.2 91.7,627.4 99.2,630.4 106.6,634.5 110.4,638.6 115.6,640.8 120.1,643.8 126.1,649 130.6,652 138,659.5 145.5,669.2 152.2,678.9 157.5,683.4 163.4,684.5 171.7,685.4 176.9,683.9 181.4,684.5 186.6,683.4 191.8,679.7 199.3,675.9 208.7,673 218.7,666.6 223.3,664.2 228.7,666.6 242.4,675.7 249.7,675.2 260.6,677.2 269.7,677.7 280.7,677.5 288,676.6 294.4,671.2 300.7,663 307.1,653.8 311.7,652 319,646.5 329.9,641.1 340.9,633.8 350,625.6 359.1,618.3 368.2,611.9 375.5,607.3 381,605.9 388,606 391,606 399.9,603.6 410.4,602.3 422.4,603.8 434.3,606.8 441.1,607.5 449.3,604.8 457.5,603.6 465.7,604.5 474.7,606.3 482.2,607.2 489.6,606.6 498.6,604.1 507.6,601.9 516.5,598.6 527,594.7 534.5,590.6 540.5,587.7 546.4,586.2 556.9,585.7 571.8,586.2 582.5,586.1 592.9,582.7 604.9,583.7 610.9,588.6 622.8,594.2 637.8,599.8 652.7,605.1 664.7,610 670.7,611.8 679.6,610 688.6,608.1 702.1,607.3 712.5,612.5 726,617 734.9,615.5 740.9,611.8 752.9,607.6 763.3,605.5 774,597.1 780,595.3 791.9,594.1 805.4,592.4 820.3,591.6 830.8,592.7 838.2,600.1 848.7,605.4 860.7,611 872.6,616.6 880.1,621.1 886.1,622.3 898,621.5 907,615.8 914.5,613.6 921.9,612.8 930.9,615.8 944.4,615.8 953.3,621.8 963.4,632.9 970.1,639.6 978.5,647.1 986.9,648.3 996.9,644.6 1011.2,645.5 1022.1,639.6 1033.9,629.5 1042.2,622.8 1052.3,622.3 1060.7,626.7 1069.1,628.4 1082.5,627.3 1094.3,626.7 1104.3,630 1116.1,626.2 1129.5,619.5 1137.9,618.3 1149.6,620.6 1159.7,625.8 1174,625.3" fill="none" stroke="#fdd835" stroke-width="1" stroke-linejoin="round" stroke-linecap="round" />
<polyline points="10.2,633.3 13.2,622.1 18.2,629.6 23.2,623.2 31.9,643.1 37.1,633.3 46.1,622.1 51,638.6 55.1,629.6 59.6,628.6 64.8,633.3 69,617.7 73.8,617.4 83,610.2 88.4,621.4 93.2,653.5 97.7,661.7 102.9,668 106.9,667.7 111.1,688.7 116.1,659.1 124.6,690.9 130,673 135.3,688.7 139.1,680.4 143.7,700.6 148.8,704.8 153,697.6 157.9,706.6 162.7,678.9 167.2,670.4 172.1,678.5 176.9,665.5 181.4,667.4 186.2,666.5 190.8,644.6 194.8,643.1 199.6,654.7 203.8,658.8 209,677.5 217.8,665.7 222.9,656.2 232,719.5 236.9,720.4 242,724.9 246,653.8 251,669.3 255.7,659.9 260.3,654.7 265.2,655.7 269.7,665.7 274.3,666.1 278.9,675.7 283.8,660.2 293.1,638.3 298,633.8 301.7,633.2 307.1,629.6 311.7,628.3 316.2,623.8 320.8,614.6 325.4,620.1 330.3,628.3 335.4,624.7 339.9,620.5 344.5,621 349.1,598.2 354.5,593.7 358.2,592.8 362.7,590.6 368.2,585.5 371.5,585.1 376.4,590.9 381.9,614.6 385.9,615.6 391,625 395.9,606.3 399.9,613.5 405.2,610.1 409.7,610.1 418.6,600.4 424.2,600.1 428.3,610.1 432.8,599.2 436.6,597.7 441.8,592.1 447,597.7 451.1,594.1 456,617.5 461.2,605.1 465.3,621.3 469.5,621.6 475.1,626.5 483.7,599.6 488.4,599.2 493.4,589.1 502.3,579.4 507.3,582.1 512.1,577.2 516.8,569 521.3,589.6 525.8,591.4 530.7,583.9 534.9,581.2 539.7,589.9 544.9,588.4 549.1,600.1 553.9,595.1 559.1,587.7 563.6,587.7 568.1,585.7 572.6,584.7 576.8,573.3 581.4,572.1 587,566.7 590.7,566.4 595.9,578.9 601.2,584.9 605.6,599.8 610.1,648.9 614.6,618.5 618.8,629.4 623.6,616.6 628.5,618.5 633,606.1 638.5,612.1 642.7,595.1 647.5,590.6 652,590.6 656.9,598.8 660.9,599.4 665.9,616.6 670.7,623 675.1,634.7 679.6,605.8 684.1,616.6 689.3,610 693.8,605.5 698.3,600.6 707.7,635.7 717,611.1 722.2,618.5 735.7,604.3 739.9,591.3 744.7,592.4 749.6,585.6 758.9,593.6 767.8,578.2 773.1,571.9 777.7,592.7 787.1,617.6 791.9,605.4 805.4,588.2 809.8,587.1 815.1,587.1 820,579.9 824.3,596.8 829,585.2 833.8,595.6 837.9,665.9 842.7,635 847.7,637.9 851.7,630.8 856.9,643.5 862.2,633.8 866.6,616.6 871.1,616.6 876.1,628.5 884.6,606.1 889.8,591.6 894.3,588.6 899.2,588.6 904,613.6 913,606.6 917.8,633.8 921.9,627 926.9,648.7 930.9,646.5 936.2,621.1 941.4,618.1 945.4,616.6 949.9,648 954.8,648.7 959.3,662.6 964.2,674.5 968.9,667.3 973.1,685.7 978.5,669 982.7,643.8 987.2,631.2 996.9,616.9 1001.1,625.3 1011.2,619 1019.6,614.9 1024.6,621.1 1028.8,623.7 1033.9,612.8 1038.9,609.9 1043.1,632.9 1052.3,640.8 1057,662.6 1070.8,622 1075.8,615.3 1080.8,610.2 1085,610.6 1090.1,618.6 1095.1,622 1099.3,639.1 1104.3,635.1 1112.7,612.8 1117.8,620 1122.8,620.3 1127,609.4 1132,606 1137,611.6 1140.9,627 1145.4,622 1151.3,623.7 1155,669.8 1159.7,643.8 1163.9,634.6 1168.9,634.1 1174,624.5" fill="none" stroke="#7e57c2" stroke-width="3" stroke-linejoin="round" stroke-linecap="round" />
</g>
<text x="18.2" y="576.9" textLength="75.8" lengthAdjust="spacingAndGlyphs">RSI (14, close)</text>
<text x="102.2" y="576.9" fill="#7e57c2" textLength="28.7" lengthAdjust="spacingAndGlyphs">56.24</text>
<text x="138.7" y="576.9" fill="#fdd835" textLength="29.4" lengthAdjust="spacingAndGlyphs">55.80</text>
<text x="1274.2" y="540.8" textLength="46.1" lengthAdjust="spacingAndGlyphs">4,800.00</text>
<text x="1274.2" y="496.8" textLength="46.1" lengthAdjust="spacingAndGlyphs">5,000.00</text>
<text x="1274.2" y="452.8" textLength="46.1" lengthAdjust="spacingAndGlyphs">5,200.00</text>
<text x="1274.2" y="407.8" textLength="46.1" lengthAdjust="spacingAndGlyphs">5,400.00</text>
<text x="1274.2" y="363.8" textLength="46.1" lengthAdjust="spacingAndGlyphs">5,600.00</text>
<text x="1274.2" y="319.8" textLength="46.1" lengthAdjust="spacingAndGlyphs">5,800.00</text>
<text x="1274.2" y="275.8" textLength="46.1" lengthAdjust="spacingAndGlyphs">6,000.00</text>
<text x="1274.2" y="230.8" textLength="46.1" lengthAdjust="spacingAndGlyphs">6,200.00</text>
<text x="1274.2" y="186.8" textLength="46.1" lengthAdjust="spacingAndGlyphs">6,400.00</text>
<text x="1274" y="618.425" textLength="29.7" lengthAdjust="spacingAndGlyphs">60.00</text>
<text x="1274" y="675.8749999999999" textLength="29.7" lengthAdjust="spacingAndGlyphs">40.00</text>
<text x="1274" y="733.3249999999999" textLength="29.7" lengthAdjust="spacingAndGlyphs">20.00</text>
<rect x="1269.5" y="31.5" width="57" height="26" rx="4" fill="#fff" stroke="#e8ebf1"/>
<text x="1278.3" y="49.0" textLength="20.3" lengthAdjust="spacingAndGlyphs">USD</text>
<path d="M1240 53 H1265 V70 H1240 a3 3 0 0 1 -3 -3 V56 a3 3 0 0 1 3 -3 Z" fill="#26a69a"/>
<text x="1241.8" y="65.8" fill="#fff" textLength="19.5" lengthAdjust="spacingAndGlyphs">SPX</text>
<rect x="1266" y="61" width="60" height="37" fill="#26a69a"/>
<clipPath id="cs"><rect x="1266" y="61" width="60" height="37"/></clipPath>
<g clip-path="url(#cs)">
<text x="1274.2" y="65.0" fill="#fff" textLength="46.1" lengthAdjust="spacingAndGlyphs">6,952.34</text>
</g>
<text x="1274.2" y="79.6" fill="#fff" textLength="42.5" lengthAdjust="spacingAndGlyphs">+16.47%</text>
<text x="1274.2" y="93.3" fill="#fff" textLength="46.1" lengthAdjust="spacingAndGlyphs" fill-opacity="0.8">05:30:48</text>
<path d="M1266 98 H1323 a3 3 0 0 1 3 3 V112 a3 3 0 0 1 -3 3 H1266 Z" fill="#0000ff"/>
<text x="1274.2" y="109.8" fill="#fff" textLength="46.1" lengthAdjust="spacingAndGlyphs">6,920.00</text>
<path d="M1237 115 H1265 V132 H1237 a3 3 0 0 1 -3 -3 V118 a3 3 0 0 1 3 -3 Z" fill="#2962ff"/>
<path d="M1266 115 H1323 a3 3 0 0 1 3 3 V129 a3 3 0 0 1 -3 3 H1266 Z" fill="#2962ff"/>
<text x="1238.9" y="126.5" fill="#fff" textLength="22.3" lengthAdjust="spacingAndGlyphs">EMA</text>
<text x="1274.2" y="126.5" fill="#fff" textLength="46.1" lengthAdjust="spacingAndGlyphs">6,904.60</text>
<path d="M1218 132 H1265 V149 H1218 a3 3 0 0 1 -3 -3 V135 a3 3 0 0 1 3 -3 Z" fill="#f23645"/>
<path d="M1266 132 H1323 a3 3 0 0 1 3 3 V146 a3 3 0 0 1 -3 3 H1266 Z" fill="#f23645"/>
<text x="1219.8" y="143.4" fill="#fff" textLength="41.4" lengthAdjust="spacingAndGlyphs">SMA:MA</text>
<text x="1274.2" y="143.4" fill="#fff" textLength="46.1" lengthAdjust="spacingAndGlyphs">6,840.31</text>
<path d="M1266 149 H1323 a3 3 0 0 1 3 3 V163 a3 3 0 0 1 -3 3 H1266 Z" fill="#0000ff"/>
<text x="1274.2" y="160.5" fill="#fff" textLength="46.1" lengthAdjust="spacingAndGlyphs">6,550.00</text>
<path d="M1266 231 H1323 a3 3 0 0 1 3 3 V245 a3 3 0 0 1 -3 3 H1266 Z" fill="#0000ff"/>
<text x="1274.2" y="242.6" fill="#fff" textLength="46.1" lengthAdjust="spacingAndGlyphs">6,147.00</text>
<path d="M1243 617 H1265 V634 H1243 a3 3 0 0 1 -3 -3 V620 a3 3 0 0 1 3 -3 Z" fill="#7e57c2"/>
<path d="M1266 617 H1306 a3 3 0 0 1 3 3 V631 a3 3 0 0 1 -3 3 H1266 Z" fill="#7e57c2"/>
<text x="1245.3" y="630.0" fill="#fff" textLength="15.4" lengthAdjust="spacingAndGlyphs">RSI</text>
<text x="1274" y="630.0" fill="#fff" textLength="29.7" lengthAdjust="spacingAndGlyphs">56.24</text>
<path d="M1189 634 H1265 V651 H1189 a3 3 0 0 1 -3 -3 V637 a3 3 0 0 1 3 -3 Z" fill="#fdd835"/>
<path d="M1266 634 H1306 a3 3 0 0 1 3 3 V648 a3 3 0 0 1 -3 3 H1266 Z" fill="#fdd835"/>
<text x="1190.8" y="647.0" fill="#131722" textLength="69.9" lengthAdjust="spacingAndGlyphs">RSI-based MA</text>
<text x="1274" y="647.0" fill="#131722" textLength="29.7" lengthAdjust="spacingAndGlyphs">55.80</text>
<text x="32.6" y="752.5" text-anchor="middle">Feb</text>
<text x="121.5" y="752.5" text-anchor="middle">Mar</text>
<text x="218.4" y="752.5" text-anchor="middle">Apr</text>
<text x="316.4" y="752.5" text-anchor="middle">May</text>
<text x="414.4" y="752.5" text-anchor="middle">Jun</text>
<text x="507.7" y="752.5" text-anchor="middle">Jul</text>
<text x="610.5" y="752.5" text-anchor="middle">Aug</text>
<text x="708.4" y="752.5" text-anchor="middle">Sep</text>
<text x="806.4" y="752.5" text-anchor="middle">Oct</text>
<text x="913.4" y="752.5" text-anchor="middle">Nov</text>
<text x="1001.3" y="752.5" text-anchor="middle">Dec</text>
<text x="1104.4" y="752.5" text-anchor="middle" font-weight="bold">2026</text>
<text x="1197.7" y="752.5" text-anchor="middle">Feb</text>
<g fill="#111"><path d="M11.8 784.9 H23.8 V799.8 H17.7 V791.3 H11.8 Z"/><circle cx="29" cy="787.7" r="2.6"/><path d="M34.4 784.9 H41.8 L35.6 799.8 H28.2 Z"/></g>
<text x="48.9" y="799.8" font-size="20.6" font-weight="bold" textLength="120.4" lengthAdjust="spacingAndGlyphs" fill="#111">TradingView</text>
</svg>
</body></html>
